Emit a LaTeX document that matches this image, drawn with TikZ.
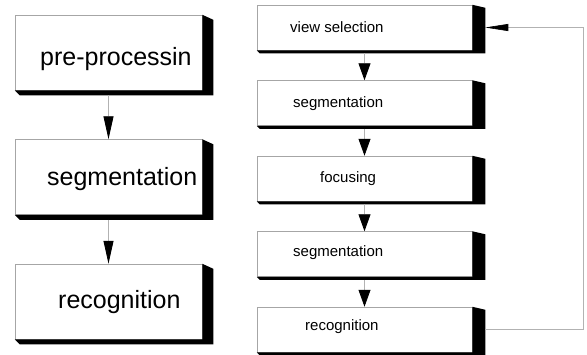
\documentclass[tikz,border=0pt]{standalone}
\usepackage{fontspec}
\setmainfont{Liberation Sans}
\usetikzlibrary{positioning, arrows.meta, calc}

% black drop shade on the right and bottom of a box
\newcommand{\boxshade}[3]{%
  \fill (#1.north east) -- ++(#2,#3) -- ($(#1.south east)+(#2,#3)$)
    -- ($(#1.south west)+(#3,#3)$) -- (#1.south west) -- (#1.south east) -- cycle;}

\begin{document}
\begin{tikzpicture}[
    x=1pt, y=-1pt,
    bigbox/.style={
      draw=gray!70, line width=0.5pt, inner sep=0pt,
      minimum width=187pt, minimum height=75pt
    },
    smallbox/.style={
      draw=gray!70, line width=0.5pt, inner sep=0pt,
      minimum width=215pt, minimum height=45pt
    },
    bigtext/.style={anchor=base west, inner sep=0pt, font=\fontsize{25}{30}\selectfont},
    smalltext/.style={anchor=base west, inner sep=0pt, font=\fontsize{15}{18}\selectfont},
    flow/.style={draw=gray!60, line width=0.8pt},
]
    \useasboundingbox (0,0) rectangle (587,354);

    % Left column
    \node[bigbox] (pre) at (108.5,52.5) {};
    \node[bigbox, below=49pt of pre] (segL) {};
    \node[bigbox, below=49pt of segL] (recL) {};
    \boxshade{pre}{11}{5}
    \boxshade{segL}{11}{5}
    \boxshade{recL}{11}{5}

    \begin{scope}
      \clip (15,15) rectangle (191,90);
      \node[bigtext] (pretext) at (40,65) {pre-processing};
    \end{scope}
    \node[bigtext] (segLtext) at (47,185) {segmentation};
    \node[bigtext] (recLtext) at (58,308) {recognition};

    \draw[flow, shorten <=5pt, -{Triangle[length=23pt, width=10pt, black]}] (pre.south) -- (segL.north);
    \draw[flow, shorten <=5pt, -{Triangle[length=23pt, width=10pt, black]}] (segL.south) -- (recL.north);

    % Right column
    \node[smallbox] (view) at (364.5,27.5) {};
    \node[smallbox, below=30pt of view] (segA) {};
    \node[smallbox, below=30pt of segA] (focus) {};
    \node[smallbox, below=30pt of focus] (segB) {};
    \node[smallbox, below=30pt of segB] (recR) {};
    \foreach \n in {view, segA, focus, segB, recR}
      \boxshade{\n}{13}{3};

    \node[smalltext] (viewtext) at (290,32) {view selection};
    \node[smalltext] (segAtext) at (293,107) {segmentation};
    \node[smalltext] (focustext) at (320,182) {focusing};
    \node[smalltext] (segBtext) at (293,256) {segmentation};
    \node[smalltext] (recRtext) at (305,330) {recognition};

    \foreach \a/\b in {view/segA, segA/focus, focus/segB, segB/recR}
      \draw[flow, shorten <=3pt, -{Triangle[length=17pt, width=12pt, black]}] (\a.south) -- (\b.north);

    % Feedback loop
    \draw[flow, line width=0.6pt, -{Triangle[length=23pt, width=7pt, black]}]
      ([xshift=13pt]recR.east) -- ++(98,0) |- ([xshift=13pt]view.east);
\end{tikzpicture}
\end{document}
